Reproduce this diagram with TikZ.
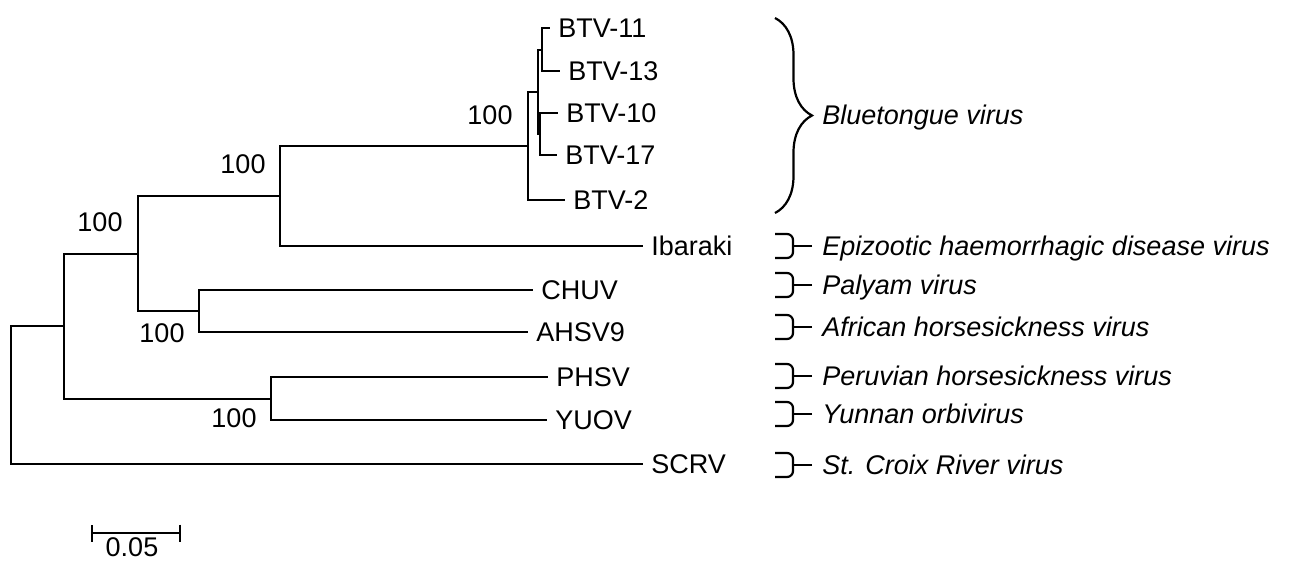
\documentclass[tikz,border=0pt]{standalone}
\usepackage{fontspec}
\setmainfont{Liberation Sans}
\usepackage{tikz}
\usetikzlibrary{
  arrows.meta,
  positioning,
  calc,
  decorations.pathreplacing
}
\tikzset{
  branch/.style={line width=1.2pt},
  taxon/.style={anchor=west, inner xsep=4pt, inner ysep=0pt,
                text height=9.6pt, text depth=0pt,
                font=\fontsize{13.5}{16}\selectfont},
  virus/.style={taxon, inner xsep=5pt, font=\fontsize{13.5}{16}\selectfont\itshape},
  boot/.style={inner sep=0pt, font=\fontsize{13.5}{16}\selectfont},
  grp/.style={line width=1.1pt, rounded corners=3pt}
}
\newcommand{\grpmark}[1]{%
  \draw[grp] (#1.west) ++(-37,-12) -| ++(18,24) -- ++(-18,0);
  \draw[grp] (#1.west) -- ++(-19,0);}

\begin{document}
\begin{tikzpicture}[x=0.5pt, y=-0.5pt]
\useasboundingbox (0,0) rectangle (1289,562);

% inner nodes of the tree
\coordinate (root) at (11,395);
\coordinate (nA) at (64,326);
\coordinate (nB) at (138,254);
\coordinate (nC) at (280,196);
\coordinate (nD) at (199,311);
\coordinate (nE) at (271,399);
\coordinate (nF) at (528,146);
\coordinate (nG) at (538,92);
\coordinate (nH) at (542,50);
\coordinate (nI) at (540,134);

% taxa
\node[taxon] (btv11) at (550,28) {BTV-11};
\node[taxon] (btv13) at (560,71) {BTV-13};
\node[taxon] (btv10) at (558,113) {BTV-10};
\node[taxon] (btv17) at (557,155) {BTV-17};
\node[taxon] (btv2) at (565,200) {BTV-2};
\node[taxon] (ibaraki) at (643,246) {Ibaraki};
\node[taxon] (chuv) at (533,290) {CHUV};
\node[taxon] (ahsv) at (528,332) {AHSV9};
\node[taxon] (phsv) at (548,377) {PHSV};
\node[taxon] (yuov) at (547,420) {YUOV};
\node[taxon] (scrv) at (643,464) {SCRV};

% branches
\draw[branch] (root) |- (nA);
\draw[branch] (root) |- (scrv.west);
\draw[branch] (nA) |- (nB);
\draw[branch] (nA) |- (nE);
\draw[branch] (nB) |- (nC);
\draw[branch] (nB) |- (nD);
\draw[branch] (nC) |- (nF);
\draw[branch] (nC) |- (ibaraki.west);
\draw[branch] (nD) |- (chuv.west);
\draw[branch] (nD) |- (ahsv.west);
\draw[branch] (nE) |- (phsv.west);
\draw[branch] (nE) |- (yuov.west);
\draw[branch] (nF) |- (nG);
\draw[branch] (nF) |- (btv2.west);
\draw[branch] (nG) |- (nH);
\draw[branch] (nG) |- (nI);
\draw[branch] (nH) |- (btv11.west);
\draw[branch] (nH) |- (btv13.west);
\draw[branch] (nI) |- (btv10.west);
\draw[branch] (nI) |- (btv17.west);

% bootstrap values
\node[boot] (bF) at (490,115) {100};
\node[boot] (bC) at (243,164) {100};
\node[boot] (bB) at (100,222) {100};
\node[boot] (bD) at (162,333) {100};
\node[boot] (bE) at (234,418) {100};

% groups
\coordinate (btTop) at (775,18);
\coordinate (btBot) at (775,213);
\draw[line width=1.1pt, decorate, decoration={brace, amplitude=18.5pt}] (btTop) -- (btBot);
\node[virus] (blue) at (812,115) {Bluetongue virus};
\node[virus] (epiz) at (812,246) {Epizootic haemorrhagic disease virus};
\node[virus] (palyam) at (812,285) {Palyam virus};
\node[virus] (ahs) at (812,327) {African horsesickness virus};
\node[virus] (peru) at (812,376) {Peruvian horsesickness virus};
\node[virus] (yunnan) at (812,414) {Yunnan orbivirus};
\node[virus] (scr) at (812,465) {St. Croix River virus};
\grpmark{epiz}
\grpmark{palyam}
\grpmark{ahs}
\grpmark{peru}
\grpmark{yunnan}
\grpmark{scr}

% scale bar
\coordinate (sbL) at (91,533);
\coordinate (sbR) at (181,533);
\draw[branch, {Bar[width=8.5pt]}-{Bar[width=8.5pt]}] (sbL) -- (sbR);
\node[boot] (sbText) at (132,547) {0.05};
\end{tikzpicture}
\end{document}
